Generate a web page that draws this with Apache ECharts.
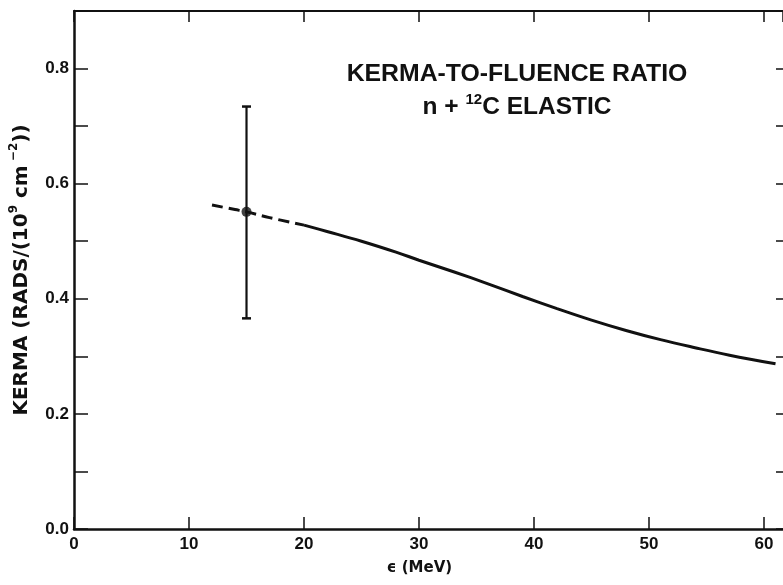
<!DOCTYPE html>
<html>
<head>
<meta charset="utf-8">
<script src="https://cdn.jsdelivr.net/npm/echarts@6/dist/echarts.min.js"></script>
<style>
html,body{margin:0;padding:0;background:#fff;}
#chart{width:783px;height:585px;}
</style>
</head>
<body>
<div id="chart"></div>
<script>
// ---- data ----
var dashedX = [12, 14, 15, 17, 20];
var dashedY = [0.563, 0.555, 0.551, 0.541, 0.528];
var solidX = [20, 22, 25, 28, 30, 33, 36, 39, 42, 45, 48, 51, 54, 57, 61];
var solidY = [0.528, 0.517, 0.500, 0.481, 0.467, 0.447, 0.426, 0.404, 0.383, 0.363, 0.345, 0.329, 0.315, 0.302, 0.287];
var pointX = [15];
var pointY = [0.551];
var errLow = [0.366];
var errHigh = [0.734];
var xTicks = [0, 10, 20, 30, 40, 50, 60];
var yTicks = [0.0, 0.2, 0.4, 0.6, 0.8];

var X_MIN = 0, X_MAX = 61.65, Y_MIN = 0, Y_MAX = 0.9;

function pairs(xs, ys) { return xs.map(function (x, i) { return [x, ys[i]]; }); }

var chart = echarts.init(document.getElementById('chart'), null, {renderer: 'canvas'});
var INK = '#111';
var tickFont = {color: INK, fontFamily: 'Liberation Sans', fontWeight: 'bold', fontSize: 17};

var option = {
  backgroundColor: '#fff',
  animation: false,
  grid: {left: 73, right: 0, top: 11, bottom: 56},
  xAxis: [{
    type: 'value', position: 'bottom', min: X_MIN, max: X_MAX, interval: 10,
    axisLine: {show: true, onZero: false, lineStyle: {color: INK, width: 2.5}},
    axisTick: {show: true, inside: true, length: 12, lineStyle: {color: INK, width: 1.5}},
    splitLine: {show: false},
    axisLabel: Object.assign({margin: 7, showMaxLabel: false, formatter: function (v) {
      return xTicks.indexOf(Math.round(v)) >= 0 && Math.abs(v - Math.round(v)) < 1e-6 ? String(Math.round(v)) : '';
    }}, tickFont),
    name: 'ϵ (MeV)', nameLocation: 'middle', nameGap: 32,
    nameTextStyle: {color: INK, fontFamily: 'DejaVu Sans', fontWeight: 'bold', fontSize: 15, padding: [0, 18, 0, 0]}
  }, {
    type: 'value', position: 'top', min: X_MIN, max: X_MAX, interval: 10,
    axisLine: {show: true, onZero: false, lineStyle: {color: INK, width: 2}},
    axisTick: {show: true, inside: true, length: 11, lineStyle: {color: INK, width: 1.5}},
    axisLabel: {show: false}, splitLine: {show: false}
  }],
  yAxis: [{
    type: 'value', position: 'left', min: Y_MIN, max: Y_MAX, interval: 0.1,
    axisLine: {show: true, onZero: false, lineStyle: {color: INK, width: 2.5}},
    axisTick: {show: true, inside: true, length: 14, lineStyle: {color: INK, width: 1.5}},
    splitLine: {show: false},
    axisLabel: Object.assign({margin: 5, formatter: function (v) {
      for (var i = 0; i < yTicks.length; i++) { if (Math.abs(v - yTicks[i]) < 1e-6) return yTicks[i].toFixed(1); }
      return '';
    }}, tickFont),
    name: '{a|KERMA (RADS/(10}{s|9}{a| cm}{s| −2}{a|))}',
    nameLocation: 'middle', nameGap: 42, nameRotate: 90,
    nameTextStyle: {
      color: INK, fontFamily: 'DejaVu Sans', fontWeight: 'bold', fontSize: 20,
      rich: {
        a: {color: INK, fontFamily: 'DejaVu Sans', fontWeight: 'bold', fontSize: 20, lineHeight: 24, verticalAlign: 'bottom'},
        s: {color: INK, fontFamily: 'DejaVu Sans', fontWeight: 'bold', fontSize: 12, lineHeight: 24, verticalAlign: 'top'}
      }
    }
  }, {
    type: 'value', position: 'right', min: Y_MIN, max: Y_MAX, interval: 0.1,
    axisLine: {show: false, onZero: false},
    axisTick: {show: true, inside: true, length: 7, lineStyle: {color: INK, width: 1.5}},
    axisLabel: {show: false}, splitLine: {show: false}
  }],
  graphic: [{
    type: 'text', x: 517, y: 74,
    style: {text: 'KERMA-TO-FLUENCE RATIO', fill: INK, font: 'bold 24.8px "Liberation Sans"', align: 'center', verticalAlign: 'middle'}
  }, {
    type: 'text', x: 517, y: 106,
    style: {
      text: '{a|n + }{s|12}{a|C ELASTIC}', align: 'center', verticalAlign: 'middle', fill: INK,
      rich: {
        a: {fill: INK, fontFamily: 'Liberation Sans', fontWeight: 'bold', fontSize: 24.5, lineHeight: 28, verticalAlign: 'bottom'},
        s: {fill: INK, fontFamily: 'Liberation Sans', fontWeight: 'bold', fontSize: 15, lineHeight: 28, verticalAlign: 'top'}
      }
    }
  }],
  series: [{
    type: 'line', data: pairs(dashedX, dashedY), showSymbol: false, smooth: 0.4,
    lineStyle: {color: INK, width: 3, type: [11, 6]}, z: 3
  }, {
    type: 'line', data: pairs(solidX, solidY), showSymbol: false, smooth: 0.4,
    lineStyle: {color: INK, width: 3}, z: 3
  }, {
    type: 'custom', data: pointX.map(function (x, i) { return [x, errLow[i], errHigh[i]]; }),
    renderItem: function (params, api) {
      var x = api.value(0);
      var lo = api.coord([x, api.value(1)]);
      var hi = api.coord([x, api.value(2)]);
      var hw = 4.5;
      var st = {stroke: INK, lineWidth: 2.2};
      return {type: 'group', children: [
        {type: 'line', shape: {x1: hi[0], y1: hi[1], x2: lo[0], y2: lo[1]}, style: st},
        {type: 'line', shape: {x1: hi[0] - hw, y1: hi[1], x2: hi[0] + hw, y2: hi[1]}, style: {stroke: INK, lineWidth: 2.5}},
        {type: 'line', shape: {x1: lo[0] - hw, y1: lo[1], x2: lo[0] + hw, y2: lo[1]}, style: {stroke: INK, lineWidth: 2.5}}
      ]};
    }, z: 4
  }, {
    type: 'scatter', data: pairs(pointX, pointY), symbol: 'circle', symbolSize: 10,
    itemStyle: {color: INK}, z: 5
  }]
};
chart.setOption(option);
</script>
</body>
</html>
